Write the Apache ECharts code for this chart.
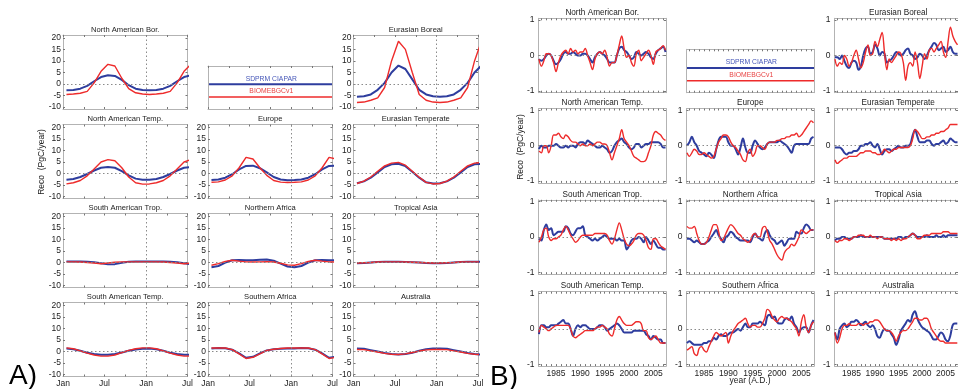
<!DOCTYPE html>
<html>
<head>
<meta charset="utf-8">
<script src="https://cdn.jsdelivr.net/npm/echarts@6/dist/echarts.min.js"></script>
<style>
  html, body { margin: 0; padding: 0; background: #fff; }
  #chart { width: 958px; height: 389px; }
</style>
</head>
<body>
<div id="chart"></div>
<script>
// ---------- panel A: mean seasonal cycle, Jan..Dec (PgC/year) ----------
const monthLabels = ['Jan', 'Jul', 'Jan', 'Jul'];

const naBorS  = [-2.7, -2.6, -2.0, -0.8, 1.2, 3.0, 3.8, 3.5, 1.8, -0.5, -2.0, -2.6];
const naBorB  = [-4.5, -4.3, -4.0, -3.2, 0.5, 5.5, 8.5, 7.8, 2.5, -2.0, -3.8, -4.3];
const euBorS  = [-5.5, -5.3, -4.5, -2.5, 0.5, 5.0, 8.0, 6.5, 2.0, -2.5, -4.5, -5.3];
const euBorB  = [-8.0, -7.8, -7.0, -6.0, -1.5, 10.0, 18.5, 15.0, 5.0, -4.5, -7.0, -7.8];
const naTmpS  = [-2.7, -2.4, -1.5, -0.2, 1.3, 2.5, 2.8, 2.5, 1.0, -0.8, -2.2, -2.7];
const naTmpB  = [-4.5, -4.0, -3.0, -1.0, 2.0, 5.0, 6.0, 5.5, 2.5, -1.5, -4.0, -4.6];
const europeS = [-2.8, -2.6, -1.8, -0.3, 1.8, 3.3, 3.4, 2.3, 0.5, -1.5, -2.6, -2.9];
const europeB = [-3.8, -3.6, -2.8, -1.0, 2.5, 7.0, 6.3, 2.5, -0.8, -3.0, -3.7, -3.9];
const euTmpS  = [-4.2, -3.4, -1.8, 0.5, 2.8, 4.0, 4.2, 3.2, 0.8, -1.8, -3.8, -4.3];
const euTmpB  = [-4.3, -3.3, -1.5, 1.0, 3.3, 4.5, 4.8, 3.6, 1.0, -1.6, -3.8, -4.5];
const saTrpS  = [0.4, 0.4, 0.4, 0.3, 0.1, -0.3, -0.8, -0.7, -0.1, 0.3, 0.4, 0.4];
const saTrpB  = [0.3, 0.3, 0.2, 0.0, -0.2, -0.5, -0.2, 0.1, 0.3, 0.3, 0.3, 0.3];
const nAfrS   = [-2.0, -1.5, 0.0, 1.0, 1.1, 1.0, 1.0, 1.2, 1.3, 0.8, -0.5, -1.7];
const nAfrB   = [-1.2, -0.5, 0.5, 1.0, 0.6, 0.3, 0.2, 0.3, 0.4, 0.2, -0.3, -1.0];
const trAsS   = [-0.3, -0.2, 0.0, 0.2, 0.3, 0.3, 0.3, 0.2, 0.1, 0.0, -0.2, -0.3];
const trAsB   = [-0.2, -0.1, 0.0, 0.2, 0.3, 0.3, 0.3, 0.2, 0.1, 0.0, -0.1, -0.2];
const saTmpS  = [1.3, 1.0, 0.3, -0.5, -1.1, -1.4, -1.4, -1.1, -0.4, 0.3, 0.9, 1.2];
const saTmpB  = [1.6, 1.2, 0.3, -0.7, -1.5, -2.0, -2.0, -1.5, -0.5, 0.5, 1.2, 1.6];
const sAfrS   = [1.3, 1.5, 1.4, 0.8, -0.8, -2.7, -2.3, -0.8, 0.5, 1.0, 1.2, 1.3];
const sAfrB   = [1.5, 1.6, 1.5, 0.8, -1.0, -3.0, -2.5, -1.0, 0.5, 1.0, 1.3, 1.5];
const austS   = [1.3, 1.2, 0.6, 0.0, -0.6, -1.1, -1.3, -1.1, -0.5, 0.3, 1.0, 1.3];
const austB   = [0.9, 0.8, 0.3, -0.2, -0.8, -1.2, -1.3, -1.0, -0.4, 0.2, 0.7, 0.9];

// ---------- panel B: interannual anomalies (PgC/year) ----------
const years = [1981.5, 1982, 1982.5, 1983, 1983.5, 1984, 1984.5, 1985, 1985.5, 1986,
  1986.5, 1987, 1987.5, 1988, 1988.5, 1989, 1989.5, 1990, 1990.5, 1991,
  1991.5, 1992, 1992.5, 1993, 1993.5, 1994, 1994.5, 1995, 1995.5, 1996,
  1996.5, 1997, 1997.5, 1998, 1998.5, 1999, 1999.5, 2000, 2000.5, 2001,
  2001.5, 2002, 2002.5, 2003, 2003.5, 2004, 2004.5, 2005, 2005.5, 2006,
  2006.5, 2007, 2007.5];
const yearLabels = [1985, 1990, 1995, 2000, 2005];

const iaNaBorS = [-0.1, -0.15, -0.1, 0.0, 0.05, 0.0, -0.15, -0.25, -0.2, -0.1,
  0.05, 0.1, 0.05, 0.05, 0.1, 0.05, 0.0, 0.0, 0.05, 0.05,
  0.0, -0.1, -0.2, -0.05, 0.05, 0.1, 0.05, 0.0, -0.1, -0.2,
  -0.2, -0.2, 0.0, 0.2, 0.25, 0.15, 0.1, 0.0, -0.1, -0.05,
  0.1, 0.05, 0.0, 0.05, 0.1, 0.05, -0.05, -0.1, 0.05, 0.15,
  0.2, 0.25, 0.1];
const iaNaBorB = [-0.1, -0.3, -0.15, 0.05, 0.05, 0.0, -0.2, -0.45, -0.2, 0.0,
  0.1, 0.15, 0.05, 0.2, 0.1, 0.15, 0.05, 0.1, 0.1, 0.2,
  0.0, -0.2, -0.4, -0.1, 0.05, 0.1, 0.05, 0.15, -0.05, -0.3,
  -0.2, -0.2, 0.0, 0.3, 0.55, 0.2, -0.05, 0.0, -0.2, -0.3,
  0.05, 0.15, -0.15, -0.05, 0.05, 0.15, 0.0, -0.25, 0.1, 0.15,
  0.2, 0.28, 0.15];
const iaEuBorS = [-0.05, -0.05, -0.1, 0.0, -0.15, -0.3, -0.35, -0.2, -0.15, -0.2,
  -0.4, -0.3, 0.0, 0.2, 0.25, 0.05, 0.1, 0.3, 0.2, 0.0,
  0.1, 0.05, -0.2, -0.15, -0.1, 0.0, 0.1, 0.05, 0.0, 0.05,
  0.15, 0.2, 0.05, 0.0, -0.1, -0.05, 0.05, 0.0, -0.1, 0.0,
  0.15, 0.25, 0.35, 0.3, 0.15, 0.2, 0.25, 0.1, 0.15, 0.25,
  0.1, 0.05, 0.05];
const iaEuBorB = [-0.1, -0.3, -0.2, -0.25, 0.0, -0.1, -0.3, -0.2, 0.0, 0.15,
  -0.1, -0.35, -0.2, 0.1, 0.3, 0.0, 0.05, 0.4, 0.25, 0.45,
  0.65, 0.1, -0.4, -0.1, -0.2, -0.1, 0.0, 0.1, 0.05, -0.2,
  -0.7, -0.3, -0.2, -0.3, 0.1, -0.2, -0.65, -0.3, 0.05, -0.1,
  0.15, 0.2, 0.1, 0.2, 0.3, 0.4, 0.1, -0.05, 0.4, 0.8,
  0.55, 0.4, 0.3];
const iaNaTmpS = [-0.1, 0.0, -0.05, -0.05, 0.0, 0.0, 0.0, 0.05, 0.0, -0.05,
  -0.05, 0.0, -0.05, 0.0, 0.0, -0.05, 0.05, 0.1, 0.1, 0.05,
  0.15, 0.1, 0.05, 0.0, -0.05, -0.05, 0.0, -0.05, -0.1, -0.2,
  -0.15, 0.0, 0.1, 0.15, 0.2, 0.1, 0.05, -0.05, -0.1, -0.05,
  0.05, 0.05, -0.05, 0.0, 0.05, 0.05, 0.1, 0.1, 0.1, 0.1,
  0.05, -0.05, -0.05];
const iaNaTmpB = [-0.15, -0.2, 0.0, 0.0, -0.2, 0.0, 0.3, 0.3, 0.35, 0.25,
  0.2, 0.3, 0.25, 0.15, 0.1, 0.1, 0.05, 0.0, 0.05, 0.0,
  0.0, 0.05, 0.0, 0.05, 0.1, 0.1, 0.05, 0.05, 0.0, -0.2,
  -0.4, -0.2, 0.0, 0.2, 0.45, 0.2, 0.1, 0.0, -0.15, -0.3,
  -0.35, -0.4, -0.45, -0.45, -0.4, -0.2, 0.0, 0.3, 0.4, 0.35,
  0.3, 0.2, 0.15];
const iaEuropeS = [0.0, 0.1, 0.25, 0.1, 0.0, -0.15, -0.2, -0.25, -0.3, -0.2,
  -0.25, -0.35, -0.1, 0.15, 0.25, 0.25, 0.25, 0.1, 0.0, 0.0,
  -0.1, -0.25, -0.05, 0.2, -0.05, -0.2, -0.2, 0.0, 0.15, 0.05,
  -0.05, -0.1, -0.05, 0.05, 0.1, 0.1, 0.1, 0.1, 0.15, 0.1,
  0.05, 0.0, -0.1, -0.2, 0.0, 0.05, 0.05, 0.05, 0.05, 0.05,
  0.05, 0.2, 0.25];
const iaEuropeB = [-0.2, -0.3, -0.2, -0.1, -0.15, -0.25, -0.25, -0.2, -0.25, -0.3,
  -0.35, -0.3, -0.1, 0.1, 0.2, 0.3, 0.3, 0.25, 0.1, 0.0,
  -0.05, -0.15, -0.25, -0.4, -0.45, -0.2, -0.1, -0.3, -0.2, 0.0,
  0.0, -0.05, -0.1, 0.05, 0.1, 0.1, 0.1, 0.15, 0.15, 0.2,
  0.2, 0.25, 0.25, 0.3, 0.3, 0.35, 0.25, 0.3, 0.4, 0.5,
  0.6, 0.7, 0.65];
const iaEuTmpS = [-0.05, -0.05, -0.05, -0.1, -0.2, -0.25, -0.2, -0.2, -0.15, -0.15,
  -0.1, 0.0, 0.0, 0.05, 0.05, 0.1, 0.0, -0.05, 0.05, -0.1,
  -0.25, -0.15, -0.1, -0.1, -0.15, -0.1, -0.05, 0.0, -0.05, -0.05,
  0.0, 0.0, 0.05, 0.3, 0.45, 0.25, 0.1, 0.1, 0.1, 0.15,
  0.15, 0.05, 0.0, 0.05, 0.05, 0.1, 0.15, 0.05, 0.1, 0.2,
  0.15, 0.1, 0.1];
const iaEuTmpB = [-0.4, -0.5, -0.45, -0.4, -0.35, -0.35, -0.3, -0.3, -0.3, -0.3,
  -0.25, -0.2, -0.2, -0.15, -0.15, -0.15, -0.2, -0.2, -0.25, -0.25,
  -0.2, -0.1, -0.15, -0.2, -0.15, -0.1, -0.1, -0.05, -0.05, -0.05,
  -0.05, -0.05, 0.0, 0.2, 0.45, 0.4, 0.3, 0.2, 0.2, 0.25,
  0.25, 0.3, 0.3, 0.35, 0.35, 0.4, 0.4, 0.45, 0.5, 0.6,
  0.6, 0.6, 0.6];
const iaSaTrpS = [-0.05, -0.1, 0.2, 0.35, 0.2, 0.25, 0.05, 0.1, 0.15, 0.15,
  0.15, 0.3, 0.25, 0.1, 0.05, 0.15, 0.25, 0.25, 0.3, 0.05,
  0.0, -0.05, -0.1, -0.05, -0.1, -0.05, 0.0, 0.05, 0.0, -0.05,
  -0.05, -0.05, -0.1, -0.05, -0.1, -0.1, -0.35, -0.25, -0.1, -0.05,
  -0.05, 0.0, -0.05, -0.15, 0.0, -0.1, -0.2, -0.1, -0.2, -0.3,
  -0.3, -0.35, -0.35];
const iaSaTrpB = [-0.15, 0.0, 0.2, 0.25, 0.0, -0.1, -0.05, -0.05, 0.0, 0.05,
  0.2, 0.3, 0.2, 0.05, -0.05, -0.15, -0.1, 0.0, 0.05, 0.05,
  0.05, 0.05, 0.05, 0.1, 0.1, 0.1, 0.1, 0.1, 0.05, -0.1,
  -0.2, -0.05, 0.2, 0.4, 0.2, -0.05, -0.2, -0.25, -0.2, -0.1,
  0.05, 0.1, 0.1, 0.05, -0.1, -0.3, -0.35, -0.05, -0.05, -0.15,
  -0.25, -0.3, -0.35];
const iaNAfrS = [-0.05, -0.05, -0.1, -0.15, -0.1, -0.15, -0.2, -0.2, -0.15, -0.1,
  0.0, 0.1, 0.2, 0.05, -0.05, -0.15, 0.0, 0.05, 0.15, 0.1,
  0.0, -0.05, -0.1, -0.1, -0.1, -0.1, -0.15, 0.0, 0.1, 0.0,
  -0.05, -0.1, 0.1, 0.2, 0.05, -0.05, -0.1, -0.2, -0.15, -0.1,
  -0.25, -0.15, -0.05, -0.05, -0.05, 0.15, 0.1, 0.1, 0.25, 0.35,
  0.3, 0.2, 0.2];
const iaNAfrB = [0.3, 0.25, 0.25, 0.3, 0.1, -0.1, -0.2, -0.2, -0.15, 0.0,
  0.2, 0.35, 0.35, 0.15, -0.1, -0.05, 0.1, 0.25, 0.35, 0.3,
  0.2, 0.1, 0.05, -0.05, -0.1, -0.15, -0.1, 0.05, 0.1, 0.0,
  0.0, 0.25, 0.3, 0.15, -0.1, -0.2, -0.35, -0.5, -0.6, -0.65,
  -0.45, -0.35, -0.3, -0.2, -0.25, -0.15, 0.0, 0.2, 0.15, 0.1,
  0.15, 0.2, 0.2];
const iaTrAsS = [-0.1, -0.05, -0.05, 0.0, 0.0, -0.05, -0.05, -0.05, 0.0, 0.0,
  0.0, 0.05, 0.0, 0.0, 0.0, 0.0, 0.0, 0.0, 0.0, 0.0,
  0.0, -0.05, -0.05, -0.05, -0.05, -0.05, -0.05, 0.0, 0.0, -0.05,
  0.0, 0.0, 0.05, 0.1, 0.05, 0.0, 0.0, 0.0, 0.0, 0.05,
  0.0, 0.0, 0.0, 0.05, 0.0, 0.0, 0.05, 0.0, 0.05, 0.05,
  0.05, 0.05, 0.05];
const iaTrAsB = [-0.1, -0.15, -0.1, -0.1, -0.05, -0.05, -0.1, -0.05, 0.0, 0.0,
  0.05, 0.05, 0.05, 0.0, 0.0, 0.05, 0.0, 0.0, -0.05, 0.0,
  0.0, -0.05, -0.05, -0.05, -0.1, -0.05, -0.1, -0.05, -0.1, -0.05,
  -0.05, 0.0, 0.05, 0.1, 0.05, -0.05, -0.05, 0.0, 0.05, 0.05,
  0.05, 0.1, 0.1, 0.1, 0.1, 0.1, 0.15, 0.15, 0.15, 0.1,
  0.1, 0.1, 0.1];
const iaSaTmpS = [-0.15, 0.1, 0.1, 0.05, 0.05, 0.1, 0.1, 0.1, 0.15, 0.2,
  0.25, 0.15, 0.15, 0.0, -0.2, 0.0, 0.1, 0.05, 0.1, 0.1,
  0.05, 0.0, 0.0, 0.0, 0.05, 0.1, 0.1, 0.05, -0.05, 0.0,
  0.05, 0.1, 0.15, 0.1, 0.0, -0.1, -0.1, -0.1, -0.1, -0.05,
  -0.05, -0.05, -0.05, -0.05, -0.15, -0.2, -0.3, -0.2, -0.25, -0.3,
  -0.3, -0.4, -0.4];
const iaSaTmpB = [-0.1, 0.1, 0.05, 0.0, -0.05, 0.0, 0.05, 0.1, 0.1, 0.1,
  0.1, 0.1, 0.1, 0.0, -0.2, -0.25, -0.2, -0.15, -0.1, -0.05,
  -0.05, -0.05, -0.05, 0.0, 0.05, 0.05, 0.1, 0.05, 0.0, -0.15,
  -0.2, 0.0, 0.25, 0.35, 0.25, 0.15, 0.1, 0.1, 0.1, 0.15,
  0.2, 0.2, 0.15, -0.05, -0.05, -0.25, -0.3, -0.25, -0.2, -0.3,
  -0.4, -0.4, -0.4];
const iaSAfrS = [-0.4, -0.35, -0.4, -0.45, -0.45, -0.45, -0.45, -0.4, -0.4, -0.35,
  -0.35, -0.25, -0.3, -0.2, -0.15, -0.2, -0.2, -0.15, -0.1, -0.1,
  -0.05, 0.0, -0.05, 0.05, 0.15, 0.05, 0.05, 0.15, 0.15, 0.15,
  0.2, 0.15, 0.1, 0.35, 0.4, 0.3, 0.35, 0.2, 0.15, 0.15,
  0.25, 0.3, 0.25, 0.35, 0.15, 0.05, -0.1, 0.0, 0.05, 0.05,
  -0.1, 0.1, 0.25];
const iaSAfrB = [-0.6, -0.55, -0.5, -0.7, -0.75, -0.55, -0.5, -0.6, -0.65, -0.5,
  -0.35, -0.2, -0.1, -0.15, -0.2, -0.15, -0.1, -0.4, -0.2, -0.05,
  0.05, 0.15, 0.2, 0.25, 0.3, 0.15, 0.05, 0.1, 0.1, 0.05,
  0.05, 0.15, 0.3, 0.55, 0.5, 0.35, 0.25, 0.2, 0.3, 0.35,
  0.3, 0.3, 0.25, 0.2, 0.1, 0.0, -0.2, 0.2, 0.4, 0.05,
  -0.1, 0.1, 0.2];
const iaAustS = [-0.1, -0.3, 0.0, 0.1, 0.15, 0.05, 0.1, 0.2, 0.2, 0.25,
  0.2, 0.1, 0.15, 0.2, 0.1, 0.05, 0.1, 0.0, -0.2, -0.25,
  -0.1, 0.0, -0.05, -0.05, -0.15, -0.25, -0.45, -0.3, -0.05, 0.05,
  0.15, 0.25, 0.2, 0.4, 0.5, 0.3, 0.15, 0.05, 0.0, -0.05,
  -0.1, -0.2, -0.3, -0.3, -0.2, -0.1, -0.15, -0.3, -0.35, -0.2,
  0.1, 0.15, 0.15];
const iaAustB = [-0.1, -0.4, -0.25, 0.0, 0.1, 0.1, 0.15, 0.1, 0.1, 0.1,
  0.15, 0.15, 0.1, 0.15, 0.15, 0.2, 0.2, 0.25, 0.25, 0.2,
  0.1, 0.0, -0.05, -0.05, -0.1, -0.2, -0.35, -0.2, -0.1, -0.05,
  -0.05, 0.0, 0.1, 0.2, 0.3, 0.3, 0.25, 0.25, 0.3, 0.3,
  0.2, 0.0, -0.1, -0.2, -0.3, -0.35, -0.35, -0.4, -0.4, -0.4,
  -0.4, -0.4, -0.4];

// panel order: row by row, null = legend box
const regionNames = ['North American Bor.', null, 'Eurasian Boreal',
  'North American Temp.', 'Europe', 'Eurasian Temperate',
  'South American Trop.', 'Northern Africa', 'Tropical Asia',
  'South American Temp.', 'Southern Africa', 'Australia'];
const seasonSdprm = [naBorS, null, euBorS, naTmpS, europeS, euTmpS, saTrpS, nAfrS, trAsS, saTmpS, sAfrS, austS];
const seasonBiome = [naBorB, null, euBorB, naTmpB, europeB, euTmpB, saTrpB, nAfrB, trAsB, saTmpB, sAfrB, austB];
const ianSdprm = [iaNaBorS, null, iaEuBorS, iaNaTmpS, iaEuropeS, iaEuTmpS, iaSaTrpS, iaNAfrS, iaTrAsS, iaSaTmpS, iaSAfrS, iaAustS];
const ianBiome = [iaNaBorB, null, iaEuBorB, iaNaTmpB, iaEuropeB, iaEuTmpB, iaSaTrpB, iaNAfrB, iaTrAsB, iaSaTmpB, iaSAfrB, iaAustB];

const BLUE = '#2e3d9e', RED = '#ee2b2b';
const FONT = '"Liberation Sans", Arial, sans-serif';

let chart = echarts.init(document.getElementById('chart'), null, { renderer: 'canvas' });

const grids = [], xAxes = [], yAxes = [], series = [], graphics = [];

function txt(x, y, text, size, color, extra) {
  return Object.assign({
    type: 'text', x: x, y: y, silent: true,
    style: {
      text: text, fill: color || '#222', fontSize: size, fontFamily: FONT,
      textAlign: 'center', textVerticalAlign: 'middle', align: 'center', verticalAlign: 'middle'
    }
  }, extra || {});
}

// one matlab-like boxed axes
function addBox(box, cfg) {
  const gi = grids.length;
  grids.push({ left: box[0], top: box[1], width: box[2], height: box[3] });
  const line = { show: true, onZero: false, lineStyle: { color: '#b3b3b3', width: 1 } };
  const tick = vals => ({ show: true, inside: true, length: 2, customValues: vals, lineStyle: { color: '#777', width: 1 } });
  const lab = { fontSize: 8.5, color: '#222', fontFamily: FONT };
  const xi = xAxes.length, yi = yAxes.length;
  xAxes.push({
    gridIndex: gi, type: 'value', position: 'bottom', min: cfg.xMin, max: cfg.xMax,
    axisLine: line, axisTick: tick(cfg.xTicks), splitLine: { show: false },
    axisLabel: Object.assign({ show: !!cfg.xLabels, customValues: cfg.xLabels || [], formatter: cfg.xFmt, margin: 3 }, lab)
  });
  xAxes.push({
    gridIndex: gi, type: 'value', position: 'top', min: cfg.xMin, max: cfg.xMax,
    axisLine: line, axisTick: tick(cfg.xTicks), splitLine: { show: false }, axisLabel: { show: false }
  });
  yAxes.push({
    gridIndex: gi, type: 'value', position: 'left', min: cfg.yMin, max: cfg.yMax,
    axisLine: line, axisTick: tick(cfg.yLabels || []), splitLine: { show: false },
    axisLabel: Object.assign({ show: !!cfg.yLabels, customValues: cfg.yLabels || [], margin: cfg.yMargin }, lab)
  });
  yAxes.push({
    gridIndex: gi, type: 'value', position: 'right', min: cfg.yMin, max: cfg.yMax,
    axisLine: line, axisTick: tick(cfg.yLabels || []), splitLine: { show: false }, axisLabel: { show: false }
  });
  if (cfg.title) graphics.push(txt(box[0] + box[2] / 2, box[1] - 5.5, cfg.title, cfg.titleSize, '#222'));
  return { xi: xi, yi: yi };
}

function addLines(ax, blue, red, refLines, smooth, wBlue, wRed) {
  series.push({
    type: 'line', xAxisIndex: ax.xi, yAxisIndex: ax.yi, data: blue, showSymbol: false, smooth: smooth,
    lineStyle: { color: BLUE, width: wBlue }, itemStyle: { color: BLUE }, silent: true, z: 2,
    markLine: {
      silent: true, symbol: 'none', label: { show: false },
      lineStyle: { color: '#8a8a8a', type: [1.5, 2.5], width: 1 }, data: refLines
    }
  });
  series.push({
    type: 'line', xAxisIndex: ax.xi, yAxisIndex: ax.yi, data: red, showSymbol: false, smooth: smooth,
    lineStyle: { color: RED, width: wRed }, itemStyle: { color: RED }, silent: true, z: 3
  });
}

// ---------------- panel A ----------------
const aLeft = [63, 208, 353.5], aTop = [35, 124.5, 213.5, 302.5], aW = 124.5, aH = 74;
const monthTicks = [0, 3, 6, 9, 12, 15, 18];
const seasonY = [-10, -5, 0, 5, 10, 15, 20];

function cyclePoints(arr) {
  const pts = [];
  for (let k = 0; k < 19; k++) pts.push([k + 0.5, arr[k % 12]]);
  return pts;
}

regionNames.forEach((name, i) => {
  const r = Math.floor(i / 3), c = i % 3;
  const box = [aLeft[c], aTop[r], aW, aH];
  if (!name) {
    addBox([aLeft[c], 66, aW, aTop[0] + aH - 66], { xMin: 0, xMax: 18, xTicks: monthTicks, yMin: 0, yMax: 1 });
    return;
  }
  const ax = addBox(box, {
    title: name, titleSize: 7.6,
    xMin: 0, xMax: 18, xTicks: monthTicks,
    xLabels: r === 3 ? [0, 6, 12, 18] : null, xFmt: v => monthLabels[Math.round(v / 6)],
    yMin: -10.8, yMax: 21.2, yLabels: seasonY, yMargin: 2
  });
  addLines(ax, cyclePoints(seasonSdprm[i]), cyclePoints(seasonBiome[i]), [{ yAxis: 0 }, { xAxis: 12 }], false, 2, 1.4);
});

// ---------------- panel B ----------------
const bLeft = [538.5, 686.5, 834.5], bTop = [18.3, 108.5, 199.8, 291.7], bW = 127.5, bH = 74.4;
const yearTicks = [];
for (let y = 1982; y <= 2007; y++) yearTicks.push(y);

regionNames.forEach((name, i) => {
  const r = Math.floor(i / 3), c = i % 3;
  if (!name) {
    addBox([bLeft[c], 49.3, bW, bTop[0] + bH - 49.3], { xMin: 1981.4, xMax: 2007.6, xTicks: yearTicks, yMin: 0, yMax: 1 });
    return;
  }
  const ax = addBox([bLeft[c], bTop[r], bW, bH], {
    title: name, titleSize: 8.2,
    xMin: 1981.4, xMax: 2007.6, xTicks: yearTicks,
    xLabels: r === 3 ? yearLabels : null, xFmt: v => String(v),
    yMin: -1.05, yMax: 1.05, yLabels: [-1, 0, 1], yMargin: 4
  });
  const blue = years.map((y, k) => [y, ianSdprm[i][k]]);
  const red = years.map((y, k) => [y, ianBiome[i][k]]);
  addLines(ax, blue, red, [{ yAxis: 0 }], 0.35, 2, 1.4);
});

// ---------------- legends ----------------
function legend(x1, x2, yBlue, yRed, yTxtBlue, yTxtRed) {
  const cx = (x1 + x2) / 2 + 1;
  graphics.push({ type: 'line', silent: true, shape: { x1: x1, y1: yBlue, x2: x2, y2: yBlue }, style: { stroke: BLUE, lineWidth: 2 } });
  graphics.push({ type: 'line', silent: true, shape: { x1: x1, y1: yRed, x2: x2, y2: yRed }, style: { stroke: RED, lineWidth: 1.6 } });
  graphics.push(txt(cx, yTxtBlue, 'SDPRM CIAPAR', 6.8, '#4556b8'));
  graphics.push(txt(cx, yTxtRed, 'BIOMEBGCv1', 6.8, '#e84545'));
}
legend(208, 332.5, 84.3, 97, 78.7, 90.7);
legend(686.5, 814, 68, 80.7, 61.7, 75);

// ---------------- labels ----------------
graphics.push(txt(42, 162, 'Reco  (PgC/year)', 8.5, '#222', { rotation: Math.PI / 2 }));
graphics.push(txt(521, 147, 'Reco  (PgC/year)', 8.5, '#222', { rotation: Math.PI / 2 }));
graphics.push(txt(750, 381, 'year (A.D.)', 8.5, '#222'));
graphics.push(txt(23, 376, 'A)', 28, '#000'));
graphics.push(txt(504, 377, 'B)', 28, '#000'));

chart.setOption({
  animation: false,
  backgroundColor: '#fff',
  grid: grids,
  xAxis: xAxes,
  yAxis: yAxes,
  series: series,
  graphic: { elements: graphics }
});
</script>
</body>
</html>
